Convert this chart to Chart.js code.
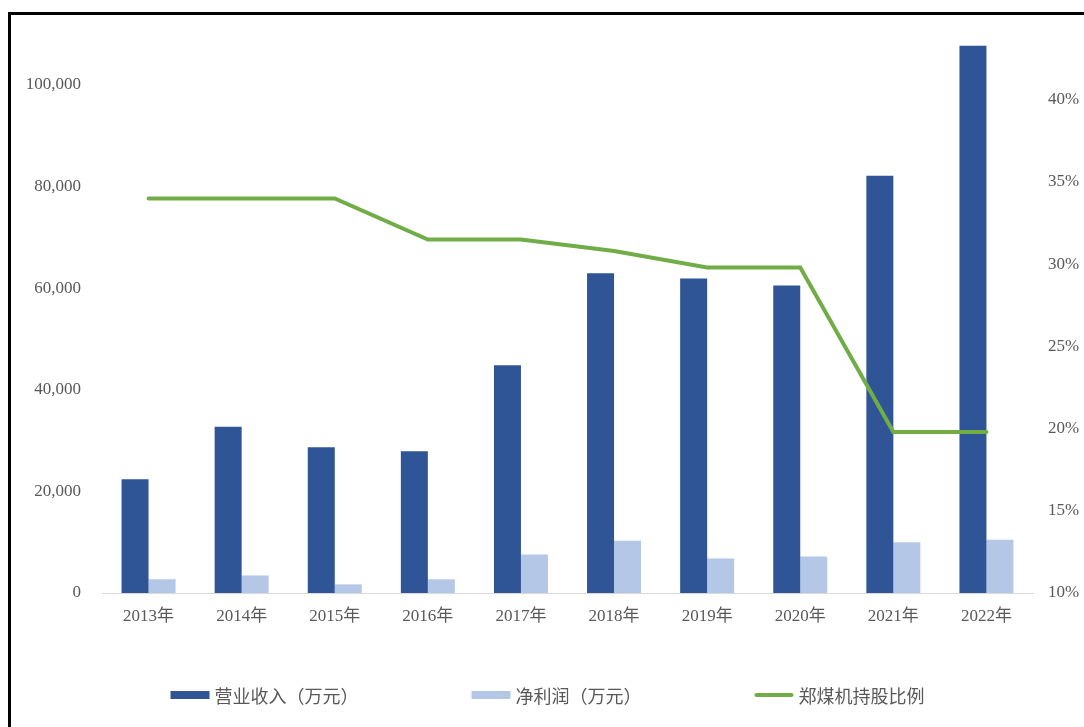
<!DOCTYPE html>
<html>
<head>
<meta charset="utf-8">
<script src="https://cdn.jsdelivr.net/npm/chart.js@4"></script>
<style>
  html, body { margin: 0; padding: 0; background: #fff; overflow: hidden; }
  #moldura {
    position: absolute; left: 8px; top: 12px;
    width: 1100px; height: 740px;
    border-left: 3px solid #000; border-top: 3px solid #000;
  }
  #grafico { display: block; }
</style>
</head>
<body>
<div id="moldura"><canvas id="grafico" width="1073" height="712"></canvas></div>
<script>
// dados
const anos = ['2013年', '2014年', '2015年', '2016年', '2017年', '2018年', '2019年', '2020年', '2021年', '2022年'];
const receita = [22400, 32700, 28700, 27900, 44800, 62900, 61900, 60500, 82100, 107700];
const lucro = [2700, 3450, 1700, 2700, 7600, 10300, 6800, 7200, 10000, 10500];
const participacao = [0.34, 0.34, 0.34, 0.315, 0.315, 0.308, 0.298, 0.298, 0.198, 0.198];

// marcas dos eixos
const ticksEsq = [0, 20000, 40000, 60000, 80000, 100000];
const ticksDir = [0.10, 0.15, 0.20, 0.25, 0.30, 0.35, 0.40];

const CINZA = '#595959';
const fonteNum = '"Liberation Serif", "Noto Sans CJK SC", serif';
const fonteCJK = '"Noto Sans CJK SC", sans-serif';

// legenda desenhada à mão (espaçamento grande entre itens)
const legendaPlugin = {
  id: 'legenda',
  afterDraw(chart) {
    const ctx = chart.ctx;
    const ds = chart.data.datasets;
    const boxW = 39, gap = 5, espaco = 113, yc = 680;
    ctx.save();
    ctx.font = '18px ' + fonteCJK;
    ctx.textBaseline = 'middle';
    const larguras = ds.map(d => boxW + gap + ctx.measureText(d.label).width);
    const total = larguras.reduce((a, b) => a + b, 0) + espaco * (ds.length - 1);
    let x = (chart.width - total) / 2;
    ds.forEach((d, i) => {
      if (d.type === 'line') {
        ctx.strokeStyle = d.borderColor;
        ctx.lineWidth = 4;
        ctx.lineCap = 'round';
        ctx.beginPath();
        ctx.moveTo(x + 2, yc);
        ctx.lineTo(x + boxW - 2, yc);
        ctx.stroke();
      } else {
        ctx.fillStyle = d.backgroundColor;
        ctx.fillRect(x, yc - 4, boxW, 8);
      }
      ctx.fillStyle = CINZA;
      ctx.fillText(d.label, x + boxW + gap, yc + 1);
      x += larguras[i] + espaco;
    });
    ctx.restore();
  }
};

// eixo y com largura fixa e sem margem extra em cima/embaixo
function fixaEixo(largura) {
  return s => { s.width = largura; s.paddingTop = 0; s.paddingBottom = 0; };
}

const ctx = document.getElementById('grafico').getContext('2d');
new Chart(ctx, {
  data: {
    labels: anos,
    datasets: [
      {
        type: 'bar', label: '营业收入（万元）', data: receita, yAxisID: 'y',
        backgroundColor: '#2F5597', categoryPercentage: 0.58, barPercentage: 1.0, order: 1
      },
      {
        type: 'bar', label: '净利润（万元）', data: lucro, yAxisID: 'y',
        backgroundColor: '#B4C7E7', categoryPercentage: 0.58, barPercentage: 1.0, order: 1
      },
      {
        type: 'line', label: '郑煤机持股比例', data: participacao, yAxisID: 'y1',
        borderColor: '#70AD47', backgroundColor: '#70AD47', borderWidth: 4,
        pointRadius: 0, tension: 0, borderCapStyle: 'round', order: 0
      }
    ]
  },
  options: {
    responsive: false,
    animation: false,
    layout: { padding: { top: 19, bottom: 84, left: 0, right: 0 } },
    plugins: { legend: { display: false }, tooltip: { enabled: false } },
    scales: {
      x: {
        grid: { display: false, drawTicks: false },
        border: { display: true, color: '#D9D9D9', width: 1 },
        ticks: { color: CINZA, font: { family: fonteNum, size: 17 }, padding: 13, maxRotation: 0 },
        afterFit(s) { s.height = 50; }
      },
      y: {
        position: 'left', min: 0, max: 110000,
        grid: { display: false, drawTicks: false },
        border: { display: false },
        ticks: {
          color: CINZA, padding: 21,
          font: { family: fonteNum, size: 17 },
          callback: v => v.toLocaleString('en-US')
        },
        afterBuildTicks(s) { s.ticks = ticksEsq.map(v => ({ value: v })); },
        afterFit: fixaEixo(91)
      },
      y1: {
        position: 'right', min: 0.10, max: 0.44,
        grid: { display: false, drawTicks: false },
        border: { display: false },
        ticks: {
          color: CINZA, padding: 15,
          font: { family: fonteNum, size: 17 },
          callback: v => Math.round(v * 100) + '%'
        },
        afterBuildTicks(s) { s.ticks = ticksDir.map(v => ({ value: v })); },
        afterFit: fixaEixo(51)
      }
    }
  },
  plugins: [legendaPlugin]
});
</script>
</body>
</html>
